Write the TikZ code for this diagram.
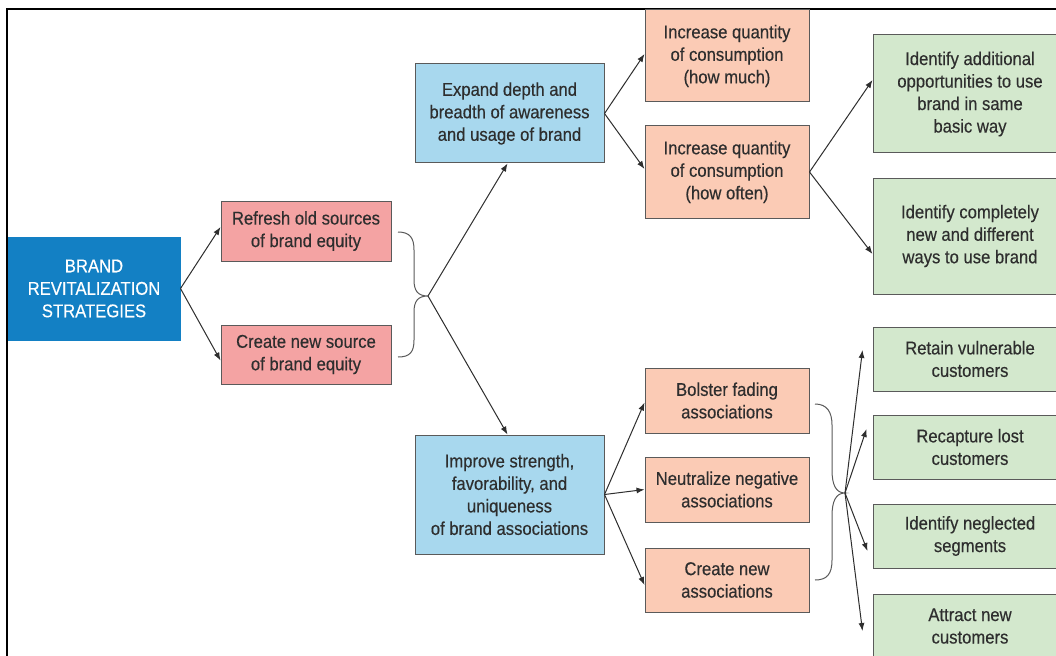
\documentclass[tikz,border=0pt]{standalone}
\usepackage{fontspec}
\setmainfont{Liberation Sans}[FakeStretch=0.9, FakeBold=0.35]
\usetikzlibrary{arrows.meta}

\definecolor{deepblue}{HTML}{1380C4}
\definecolor{paleblue}{HTML}{A8D8EE}
\definecolor{rosered}{HTML}{F4A3A3}
\definecolor{peach}{HTML}{FBCBB5}
\definecolor{sage}{HTML}{D3E8CD}
\definecolor{edgegray}{HTML}{5A5A5A}
\definecolor{inkgray}{HTML}{2E2E2E}

\tikzset{
  box/.style={draw=edgegray, line width=1pt, inner sep=0pt, align=center,
    text=inkgray, font=\fontsize{18.5}{22.5}\selectfont},
  rootbox/.style={box, fill=deepblue, draw=deepblue, text=white},
  bluebox/.style={box, fill=paleblue},
  redbox/.style={box, fill=rosered},
  peachbox/.style={box, fill=peach},
  greenbox/.style={box, fill=sage},
  link/.style={draw=inkgray, line width=1pt, -{Latex[length=8pt,width=6pt]}},
  bracket/.style={draw=edgegray, line width=1pt}
}

\begin{document}
\begin{tikzpicture}[x=1pt, y=-1pt]
\useasboundingbox (0,0) rectangle (1056,655);
\clip (0,0) rectangle (1056,655);
\fill[white] (0,0) rectangle (1056,655);

% outer frame
\draw[line width=1.8pt, black] (7,660) -- (7,9) -- (1060,9);

% first level
\node[rootbox, minimum width=172pt, minimum height=103pt] (root) at (94,288.5)
  {BRAND\\REVITALIZATION\\STRATEGIES};
\node[redbox, minimum width=170pt, minimum height=60pt] (refresh) at (306,231)
  {Refresh old sources\\of brand equity};
\node[redbox, minimum width=170pt, minimum height=59pt] (create) at (306,354.5)
  {Create new source\\of brand equity};

% second level
\node[bluebox, minimum width=189pt, minimum height=99pt] (expand) at (509.5,113.5)
  {Expand depth and\\breadth of awareness\\and usage of brand};
\node[bluebox, minimum width=189pt, minimum height=119pt] (improve) at (509.5,494.5)
  {Improve strength,\\favorability, and\\uniqueness\\of brand associations};

% third level
\node[peachbox, minimum width=164pt, minimum height=92pt] (much) at (727,56)
  {Increase quantity\\of consumption\\(how much)};
\node[peachbox, minimum width=164pt, minimum height=92pt] (often) at (727,172)
  {Increase quantity\\of consumption\\(how often)};
\node[peachbox, minimum width=164pt, minimum height=65pt] (bolster) at (727,400.5)
  {Bolster fading\\associations};
\node[peachbox, minimum width=164pt, minimum height=65pt] (neutral) at (727,489.5)
  {Neutralize negative\\associations};
\node[peachbox, minimum width=164pt, minimum height=64pt] (newassoc) at (727,580)
  {Create new\\associations};

% fourth level
\node[greenbox, minimum width=194pt, minimum height=118pt] (additional) at (970,94)
  {Identify additional\\opportunities to use\\brand in same\\basic way};
\node[greenbox, minimum width=194pt, minimum height=116pt] (different) at (970,236)
  {Identify completely\\new and different\\ways to use brand};
\node[greenbox, minimum width=194pt, minimum height=64pt] (retain) at (970,359)
  {Retain vulnerable\\customers};
\node[greenbox, minimum width=194pt, minimum height=64pt] (recapture) at (970,447)
  {Recapture lost\\customers};
\node[greenbox, minimum width=194pt, minimum height=64pt] (neglected) at (970,536)
  {Identify neglected\\segments};
\node[greenbox, minimum width=194pt, minimum height=64pt] (attract) at (970,626)
  {Attract new\\customers};

% braces gathering two and three boxes
\coordinate (tipA) at (428,296);
\coordinate (tipB) at (845,493);
\draw[bracket] (398,232) .. controls (410,232) and (414,238) .. (414,250)
  -- (414,280) .. controls (414,291) and (418,296) .. (tipA)
  .. controls (418,296) and (414,301) .. (414,312)
  -- (414,340) .. controls (414,352) and (410,357) .. (398,357);
\draw[bracket] (815,404) .. controls (827,404) and (832,412) .. (832,425)
  -- (832,470) .. controls (832,485) and (836,493) .. (tipB)
  .. controls (836,493) and (832,501) .. (832,516)
  -- (832,560) .. controls (832,574) and (827,580) .. (815,580);

% connectors
\draw[link] (root.east) -- ([yshift=4pt]refresh.west);
\draw[link] (root.east) -- ([yshift=-6pt]create.west);
\draw[link] (tipA) -- ([xshift=-2pt]expand.south);
\draw[link] (tipA) -- ([xshift=-2pt]improve.north);
\draw[link] (expand.east) -- ([yshift=2pt]much.west);
\draw[link] (expand.east) -- ([yshift=3pt]often.west);
\draw[link] (often.east) -- ([yshift=14pt]additional.west);
\draw[link] (often.east) -- ([yshift=-18pt]different.west);
\draw[link] (improve.east) -- ([yshift=-2pt]bolster.west);
\draw[link] (improve.east) -- (neutral.west);
\draw[link] (improve.east) -- ([yshift=-5pt]newassoc.west);
\draw[link] (tipB) -- ([xshift=-10pt,yshift=9pt]retain.west);
\draw[link] (tipB) -- ([xshift=-6pt,yshift=18pt]recapture.west);
\draw[link] (tipB) -- ([xshift=-5pt,yshift=-15pt]neglected.west);
\draw[link] (tipB) -- ([xshift=-10pt,yshift=-5pt]attract.west);
\end{tikzpicture}
\end{document}
